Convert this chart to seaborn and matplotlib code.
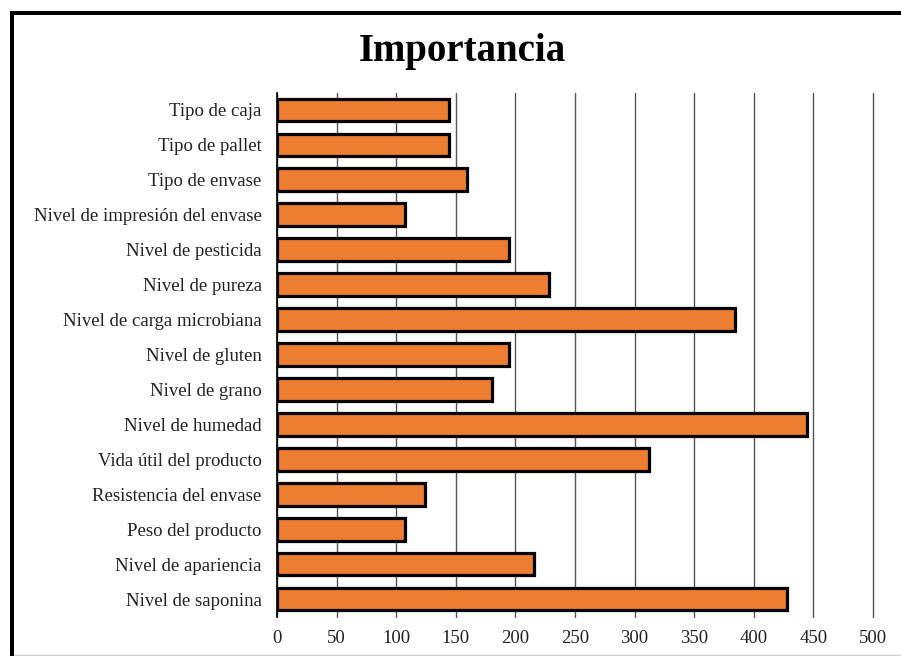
import matplotlib
matplotlib.use("Agg")
import matplotlib.pyplot as plt
from matplotlib.patches import Rectangle
from matplotlib.lines import Line2D
import seaborn as sns
import pandas as pd

categorias = [
    "Tipo de caja",
    "Tipo de pallet",
    "Tipo de envase",
    "Nivel de impresión del envase",
    "Nivel de pesticida",
    "Nivel de pureza",
    "Nivel de carga microbiana",
    "Nivel de gluten",
    "Nivel de grano",
    "Nivel de humedad",
    "Vida útil del producto",
    "Resistencia del envase",
    "Peso del producto",
    "Nivel de apariencia",
    "Nivel de saponina",
]
importancia = [144, 144, 159, 107, 195, 228, 384, 195, 180, 445, 312, 124, 107, 216, 428]
ticks_x = [0, 50, 100, 150, 200, 250, 300, 350, 400, 450, 500]

df = pd.DataFrame({"Factor": categorias, "Importancia": importancia})

sns.set_theme(style="white")
plt.rcParams["font.family"] = ["Liberation Serif", "DejaVu Serif"]

W, H = 901, 656
fig = plt.figure(figsize=(W / 100, H / 100), dpi=100)
ax = fig.add_axes([277 / W, 1 - 616.5 / H, (873 - 277) / W, (616.5 - 92.5) / H])

sns.barplot(data=df, x="Importancia", y="Factor", orient="h", color="#ED7D31",
            saturation=1, edgecolor="black", linewidth=2.3, width=0.65, ax=ax, zorder=3)

ax.set_xlim(0, 500)
ax.set_xticks(ticks_x)
ax.set_xticklabels([str(t) for t in ticks_x])
ax.xaxis.grid(True, color="#555555", linewidth=1.0, zorder=0)
for gl in ax.get_xgridlines():
    gl.set_clip_on(False)
ax.yaxis.grid(False)
ax.set_axisbelow(True)
for s in ["top", "right", "bottom"]:
    ax.spines[s].set_visible(False)
ax.spines["left"].set_color("black")
ax.spines["left"].set_linewidth(1.2)
ax.set_xlabel("")
ax.set_ylabel("")
ax.tick_params(axis="x", length=0, pad=10, labelsize=13.5, colors="#222222")
ax.tick_params(axis="y", length=0, pad=11, labelsize=13.5, colors="#222222")

fig.text(462 / W, 1 - 52 / H, "Importancia", ha="center", va="center",
         fontsize=28, fontweight="bold", color="black")

# chart frame: heavy left and top edges, light bottom edge
fig.add_artist(Rectangle((10 / W, 0), 4 / W, 1 - 11 / H, transform=fig.transFigure,
                         facecolor="black", edgecolor="none"))
fig.add_artist(Rectangle((10 / W, 1 - 15 / H), 1, 4 / H, transform=fig.transFigure,
                         facecolor="black", edgecolor="none"))
fig.add_artist(Line2D([14 / W, 1], [1 - 655 / H, 1 - 655 / H], color="#d0d0d0", linewidth=1.0))

fig.savefig("out.png", dpi=100, facecolor="white")
